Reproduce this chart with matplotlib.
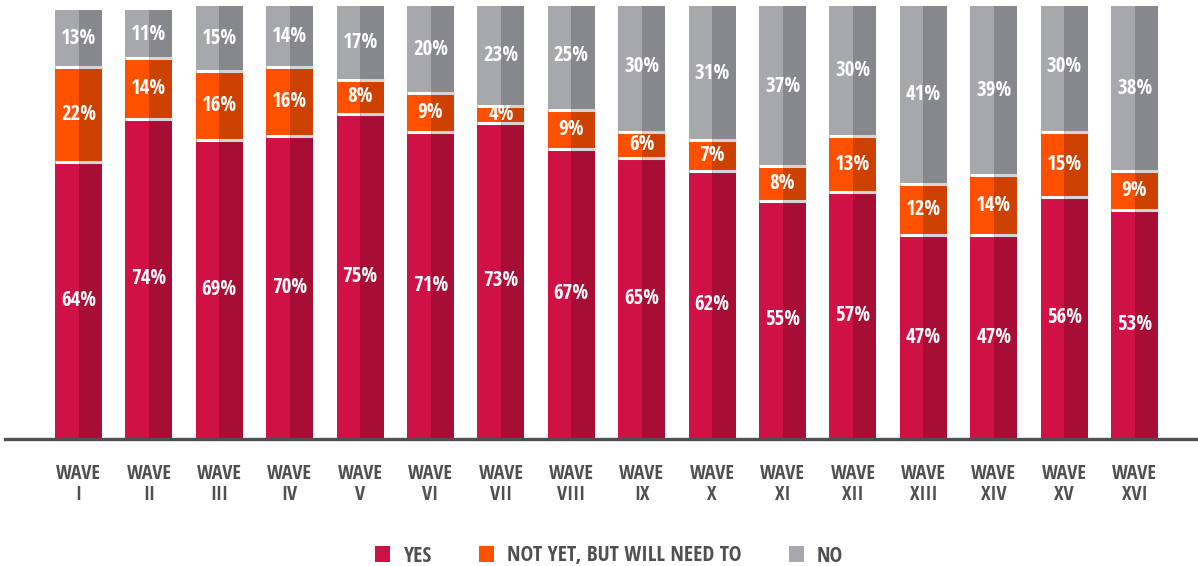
import matplotlib
matplotlib.use('Agg')
import matplotlib.pyplot as plt
from matplotlib import font_manager
from matplotlib.patches import Patch
import numpy as np

# data
waves = ['I', 'II', 'III', 'IV', 'V', 'VI', 'VII', 'VIII',
         'IX', 'X', 'XI', 'XII', 'XIII', 'XIV', 'XV', 'XVI']
yes = [64, 74, 69, 70, 75, 71, 73, 67, 65, 62, 55, 57, 47, 47, 56, 53]
not_yet = [22, 14, 16, 16, 8, 9, 4, 9, 6, 7, 8, 13, 12, 14, 15, 9]
no = [13, 11, 15, 14, 17, 20, 23, 25, 30, 31, 37, 30, 41, 39, 30, 38]
series_names = ['YES', 'NOT YET, BUT WILL NEED TO', 'NO']

# colours: (front half, shaded half)
colors = [('#D01145', '#A80D35'),
          ('#FF5000', '#CC4100'),
          ('#A7A8AC', '#87888C')]


def find_condensed_bold():
    # look for a narrow / condensed bold face among the installed fonts
    prefs = ['opensans', 'roboto', 'liberationsans', 'notosans', 'dejavusans']
    found = []
    for f in font_manager.fontManager.ttflist:
        key = (f.name + ' ' + f.fname).lower().replace(' ', '').replace('_', '').replace('-', '')
        narrow = ('condensed' in key or 'narrow' in key
                  or f.stretch in ('condensed', 'semi-condensed', 'extra-condensed'))
        bold = f.weight in ('bold', 700, 'semibold', 600) or 'bold' in key
        if narrow and bold and 'extracondensed' not in key and 'italic' not in key \
                and 'oblique' not in key:
            rank = len(prefs)
            for i, p in enumerate(prefs):
                if p in key:
                    rank = i
                    break
            found.append((rank, f.fname))
    if found:
        found.sort()
        return found[0][1]
    return None


fpath = find_condensed_bold()
if fpath:
    def fp(size):
        return font_manager.FontProperties(fname=fpath, size=size)
else:
    def fp(size):
        return font_manager.FontProperties(family='Open Sans', weight='bold',
                                           size=size * 0.9)

fig = plt.figure(figsize=(11.98, 5.66), dpi=100)
ax = fig.add_axes([5 / 1198, (566 - 439) / 566, 1 - 5 / 1198, (439 - 6) / 566])

x = np.arange(len(waves))
width = 0.667
half = width / 2

bottom = np.zeros(len(waves))
for vals, (c1, c2) in zip([yes, not_yet, no], colors):
    vals = np.array(vals, dtype=float)
    ax.bar(x - half / 2, vals, half, bottom=bottom, color=c1, linewidth=0)
    ax.bar(x + half / 2, vals, half, bottom=bottom, color=c2, linewidth=0)
    for xi, b, v in zip(x, bottom, vals):
        ax.text(xi, b + v / 2, f'{v:.0f}%', ha='center', va='center',
                color='white', fontproperties=fp(15))
    bottom = bottom + vals

# white / light grey separators between segments
for tops in [np.array(yes), np.array(yes) + np.array(not_yet)]:
    for xi, t in zip(x, tops):
        ax.plot([xi - half, xi], [t, t], color='white', lw=2.2,
                solid_capstyle='butt')
        ax.plot([xi, xi + half], [t, t], color='#D4D4D6', lw=2.2,
                solid_capstyle='butt')

ax.set_xlim((5 - 78.5) / 70.4, (1198 - 78.5) / 70.4)
ax.set_ylim(0, 100)

for s in ['top', 'right', 'left']:
    ax.spines[s].set_visible(False)
ax.spines['bottom'].set_color('#505050')
ax.spines['bottom'].set_linewidth(2.4)
ax.set_yticks([])
ax.set_xticks(x)
ax.set_xticklabels([f'WAVE\n{w}' for w in waves], fontproperties=fp(14.5),
                   color='#505050', linespacing=1.1)
ax.tick_params(axis='x', length=0, pad=18)

handles = [Patch(facecolor=c[0], edgecolor='none') for c in colors]
leg = fig.legend(handles, series_names, loc='center', ncol=3,
                 bbox_to_anchor=(609 / 1198, 1 - 556 / 566), frameon=False,
                 handlelength=0.7, handleheight=0.7, handletextpad=0.6,
                 columnspacing=2.2, prop=fp(15.5))
for t in leg.get_texts():
    t.set_color('#505050')

fig.savefig('out.png', dpi=100)
plt.close()
